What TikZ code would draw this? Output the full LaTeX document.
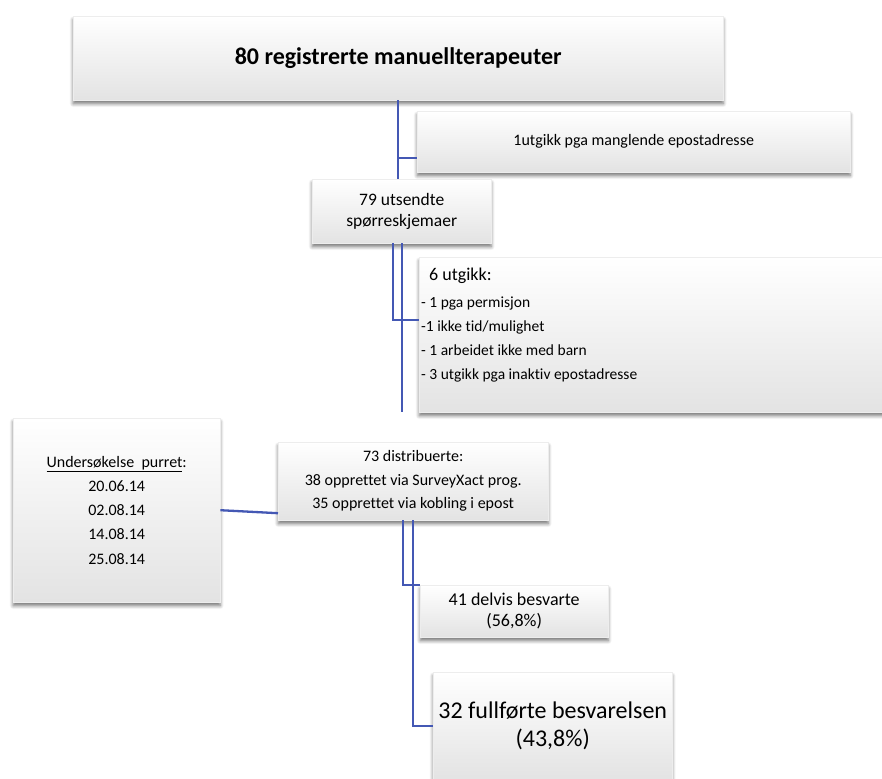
\documentclass[tikz,border=0pt]{standalone}
\usepackage{fontspec}
\setmainfont{Carlito}[Ligatures=NoCommon]
\usetikzlibrary{shadows.blur}
\definecolor{lineblue}{RGB}{68,88,180}
\tikzset{
  box/.style={rectangle, draw=black!7, line width=0.4pt, top color=white, bottom color=black!11,
    blur shadow={shadow xshift=0pt, shadow yshift=-3.5pt, shadow blur radius=3.5pt, shadow blur steps=6, shadow opacity=55},
    inner sep=0pt, anchor=north west, align=center},
  conn/.style={draw=lineblue, line width=2.3pt},
}
\begin{document}
\begin{tikzpicture}[x=1pt, y=-1pt]
\useasboundingbox (0,0) rectangle (882,778);
\clip (0,0) rectangle (882,778);
\node[box, minimum width=650pt, minimum height=84pt, font=\bfseries\fontsize{24}{29}\selectfont] (b1) at (73,16) {80 registrerte manuellterapeuter};
\node[box, minimum width=433pt, minimum height=61pt, font=\fontsize{16}{20}\selectfont] (b1u) at (417,111) {1utgikk pga manglende epostadresse};
\node[box, minimum width=179pt, minimum height=64pt, font=\fontsize{17.5}{21}\selectfont] (b79) at (312,179) {79 utsendte\\spørreskjemaer};
\node[box, minimum width=480pt, minimum height=155pt] (b6) at (419,257) {};
\node[anchor=north west, inner sep=0pt, align=left, font=\fontsize{15.5}{24}\selectfont] (t6) at ([xshift=2pt, yshift=-11pt]b6.north west)
  {{\fontsize{18}{24}\selectfont\hspace*{8pt}6 utgikk:}\\[3pt]
   - 1 pga permisjon\\
   -1 ikke tid/mulighet\\
   - 1 arbeidet ikke med barn\\
   - 3 utgikk pga inaktiv epostadresse};
\node[box, minimum width=207pt, minimum height=184pt, font=\fontsize{16}{24.3}\selectfont] (bL) at (13,418)
  {\underline{Undersøkelse\hspace{0.45em}purret}:\\20.06.14\\02.08.14\\14.08.14\\25.08.14};
\node[box, minimum width=270pt, minimum height=78pt, font=\fontsize{16}{23.5}\selectfont] (b73) at (278,442)
  {73 distribuerte:\\38 opprettet via SurveyXact prog.\\35 opprettet via kobling i epost};
\node[box, minimum width=188pt, minimum height=52pt, font=\fontsize{18}{20.5}\selectfont] (b41) at (420,585) {41 delvis besvarte\\(56,8\%)};
\node[box, minimum width=239pt, minimum height=108pt, font=\fontsize{24}{28}\selectfont] (b32) at (433,672) {32 fullførte besvarelsen\\(43,8\%)};
% connectors
\draw[conn] (b1.south) -- (b1.south |- b79.north);
\coordinate (j1) at (398,158);
\draw[conn] (j1) -- (j1 -| b1u.west);
\coordinate (j2) at (393,320);
\draw[conn] (j2 |- b79.south) -- (j2) -- (j2 -| b6.west);
\coordinate (e1) at (402,412);
\draw[conn] (e1 |- b79.south) -- (e1);
\draw[conn] (bL.east) -- ([yshift=-32pt]b73.west);
\coordinate (j4) at (403,585);
\draw[conn] (j4 |- b73.south) -- (j4) -- (j4 -| b41.west);
\coordinate (j5) at (413,726);
\draw[conn] (j5 |- b73.south) -- (j5) -- (j5 -| b32.west);
\end{tikzpicture}
\end{document}
